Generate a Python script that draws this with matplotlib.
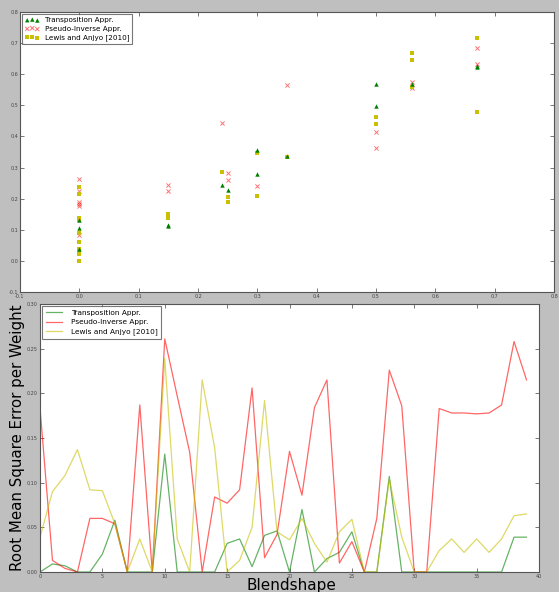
import matplotlib
matplotlib.use("Agg")
import matplotlib.pyplot as plt
import numpy as np

# ---------------- Top panel data (scatter) ----------------
trans_x = [0.0, 0.0, 0.0, 0.15, 0.15, 0.24, 0.25, 0.30, 0.30, 0.35, 0.50, 0.50, 0.56, 0.67, 0.67]
trans_y = [0.130, 0.106, 0.037, 0.116, 0.112, 0.245, 0.228, 0.356, 0.279, 0.337, 0.568, 0.499, 0.567, 0.626, 0.623]

pinv_x = [0.0, 0.0, 0.0, 0.0, 0.0, 0.0, 0.15, 0.15, 0.24, 0.25, 0.25, 0.30, 0.35, 0.50, 0.50, 0.56, 0.56, 0.67, 0.67]
pinv_y = [0.262, 0.225, 0.189, 0.184, 0.178, 0.083, 0.243, 0.225, 0.444, 0.283, 0.260, 0.240, 0.564, 0.413, 0.364, 0.575, 0.557, 0.685, 0.634]

lewis_x = [0.0, 0.0, 0.0, 0.0, 0.0, 0.0, 0.0, 0.0, 0.0, 0.0, 0.15, 0.15, 0.24, 0.25, 0.25, 0.30, 0.30, 0.35, 0.50, 0.50, 0.56, 0.56, 0.56, 0.67, 0.67]
lewis_y = [0.236, 0.215, 0.139, 0.131, 0.091, 0.062, 0.037, 0.030, 0.022, 0.000, 0.151, 0.139, 0.286, 0.204, 0.189, 0.347, 0.207, 0.335, 0.464, 0.440, 0.668, 0.647, 0.560, 0.717, 0.478]

top_ticks = [-0.1, 0.0, 0.1, 0.2, 0.3, 0.4, 0.5, 0.6, 0.7, 0.8]

# ---------------- Bottom panel data (lines) ----------------
blendshape = list(range(40))
trans_err = [0.000, 0.009, 0.007, 0.000, 0.000, 0.020, 0.058, 0.000, 0.000, 0.000,
             0.132, 0.000, 0.000, 0.000, 0.000, 0.032, 0.037, 0.006, 0.041, 0.046,
             0.000, 0.070, 0.000, 0.015, 0.022, 0.045, 0.000, 0.000, 0.107, 0.000,
             0.000, 0.000, 0.000, 0.000, 0.000, 0.000, 0.000, 0.000, 0.039, 0.039]
pinv_err = [0.184, 0.013, 0.004, 0.000, 0.060, 0.060, 0.054, 0.000, 0.187, 0.000,
            0.261, 0.197, 0.134, 0.000, 0.084, 0.077, 0.092, 0.206, 0.016, 0.042,
            0.135, 0.086, 0.184, 0.215, 0.010, 0.034, 0.000, 0.060, 0.226, 0.186,
            0.000, 0.000, 0.183, 0.178, 0.178, 0.177, 0.178, 0.187, 0.258, 0.215]
lewis_err = [0.039, 0.090, 0.108, 0.137, 0.092, 0.091, 0.054, 0.000, 0.037, 0.000,
             0.239, 0.037, 0.000, 0.215, 0.139, 0.000, 0.013, 0.050, 0.192, 0.045,
             0.036, 0.060, 0.032, 0.011, 0.045, 0.059, 0.000, 0.000, 0.104, 0.039,
             0.000, 0.000, 0.024, 0.037, 0.022, 0.037, 0.022, 0.037, 0.063, 0.065]

labels = ["Transposition Appr.", "Pseudo-Inverse Appr.", "Lewis and Anjyo [2010]"]

W, H = 559, 592
fig = plt.figure(figsize=(W / 100, H / 100), dpi=100, facecolor="#bfbfbf")

# ---------------- Top axes ----------------
ax1 = fig.add_axes([20 / W, 1 - 292 / H, (554 - 20) / W, (292 - 12) / H])
ax1.scatter(trans_x, trans_y, marker="^", s=10, color="green", linewidths=0, label=labels[0], zorder=3)
ax1.scatter(pinv_x, pinv_y, marker="x", s=9, color="red", alpha=0.55, linewidths=0.7, label=labels[1], zorder=2)
ax1.scatter(lewis_x, lewis_y, marker="s", s=9, color="#c8c000", linewidths=0, label=labels[2], zorder=2)
ax1.set_xlim(-0.1, 0.8)
ax1.set_ylim(-0.1, 0.8)
ax1.set_xticks(top_ticks)
ax1.set_yticks(top_ticks)
ax1.set_xticklabels([f"{t:.1f}" for t in top_ticks])
ax1.set_yticklabels([f"{t:.1f}" for t in top_ticks])
ax1.tick_params(direction="in", top=True, right=True, labelsize=3.5, length=3, width=0.5, pad=1.5, colors="#444444")
for sp in ax1.spines.values():
    sp.set_color("#555555")
    sp.set_linewidth(0.8)
leg1 = ax1.legend(loc="upper left", fontsize=5.2, scatterpoints=3, frameon=True, fancybox=False,
                  borderaxespad=0.25, handletextpad=0.7, labelspacing=0.35, borderpad=0.45,
                  handlelength=2.0)
leg1.get_frame().set_edgecolor("#555555")
leg1.get_frame().set_linewidth(0.8)

# ---------------- Bottom axes ----------------
ax2 = fig.add_axes([40 / W, 1 - 572 / H, (539 - 40) / W, (572 - 304) / H])
ax2.plot(blendshape, trans_err, color="green", alpha=0.6, lw=0.9, label=labels[0])
ax2.plot(blendshape, pinv_err, color="red", alpha=0.6, lw=0.9, label=labels[1])
ax2.plot(blendshape, lewis_err, color="#c8c000", alpha=0.6, lw=0.9, label=labels[2])
ax2.set_xlim(0, 40)
ax2.set_ylim(0, 0.30)
ax2.set_xticks(range(0, 41, 5))
yt = [0.0, 0.05, 0.10, 0.15, 0.20, 0.25, 0.30]
ax2.set_yticks(yt)
ax2.set_yticklabels([f"{t:.2f}" for t in yt])
ax2.tick_params(direction="in", top=True, right=True, labelsize=3.5, length=3, width=0.5, pad=1.5, colors="#444444")
for sp in ax2.spines.values():
    sp.set_color("#555555")
    sp.set_linewidth(0.8)
ax2.set_ylabel("Root Mean Square Error per Weight", fontsize=10.8)
ax2.yaxis.set_label_coords(-0.030, 0.5)
ax2.set_xlabel("Blendshape", fontsize=11)
ax2.xaxis.set_label_coords(0.503, -0.022)
leg2 = ax2.legend(loc="upper left", fontsize=5.3, frameon=True, fancybox=False, handlelength=2.2,
                  borderaxespad=0.3, handletextpad=1.2, labelspacing=0.4, borderpad=0.5)
leg2.get_frame().set_edgecolor("#555555")
leg2.get_frame().set_linewidth(0.8)

fig.savefig("out.png", dpi=100, facecolor=fig.get_facecolor())
